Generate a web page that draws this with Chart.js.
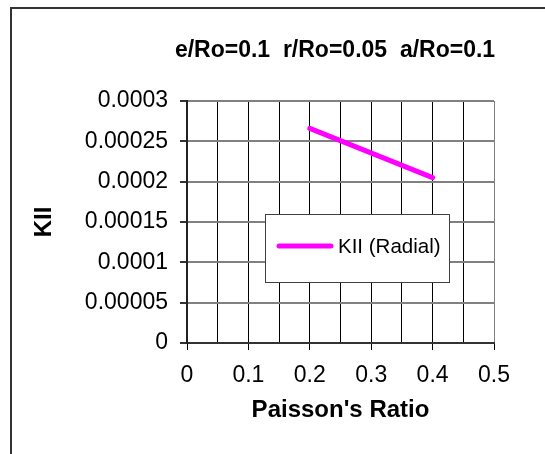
<!DOCTYPE html>
<html><head><meta charset="utf-8">
<script src="https://cdn.jsdelivr.net/npm/chart.js@4/dist/chart.umd.min.js"></script>
<style>html,body{margin:0;padding:0;background:#fff;}#wrap{width:545px;height:454px;position:relative}</style>
</head><body><div id="wrap"><canvas id="c" width="545" height="454"></canvas></div>
<script>
const chartTitle = 'e/Ro=0.1  r/Ro=0.05  a/Ro=0.1';
const xTitle = "Paisson's Ratio";
const yTitle = 'KII';
const seriesName = 'KII (Radial)';
const poissonRatio = [0.2, 0.4];
const kiiRadial = [0.000266, 0.000205];
const xTickValues = [0, 0.05, 0.1, 0.15, 0.2, 0.25, 0.3, 0.35, 0.4, 0.45, 0.5];
const xTickLabels = ['0', '', '0.1', '', '0.2', '', '0.3', '', '0.4', '', '0.5'];
const yTickValues = [0, 0.00005, 0.0001, 0.00015, 0.0002, 0.00025, 0.0003];
const yTickLabels = ['0', '0.00005', '0.0001', '0.00015', '0.0002', '0.00025', '0.0003'];

const FONT = "'Liberation Sans', Arial, sans-serif";

const framePlugin = {
  id: 'frame',
  beforeDraw(chart) {
    const ctx = chart.ctx;
    ctx.save();
    ctx.fillStyle = '#fff';
    ctx.fillRect(0, 0, chart.width, chart.height);
    ctx.strokeStyle = '#333';
    ctx.lineWidth = 2;
    ctx.beginPath();
    ctx.moveTo(11, chart.height);
    ctx.lineTo(11, 8);
    ctx.lineTo(chart.width, 8);
    ctx.stroke();
    ctx.restore();
  },
  afterDraw(chart) {
    const ctx = chart.ctx;
    ctx.save();
    ctx.fillStyle = '#000';
    ctx.font = 'bold 23px ' + FONT;
    ctx.textAlign = 'center';
    ctx.textBaseline = 'middle';
    ctx.fillText(chartTitle, 335, 51);
    ctx.restore();
  }
};

const legendBoxPlugin = {
  id: 'legendBox',
  afterDatasetsDraw(chart) {
    const ctx = chart.ctx;
    const ds = chart.data.datasets[0];
    ctx.save();
    ctx.fillStyle = '#fff';
    ctx.fillRect(265.5, 214.5, 184, 68);
    ctx.strokeStyle = '#404040';
    ctx.lineWidth = 1;
    ctx.strokeRect(265.5, 214.5, 184, 68);
    ctx.strokeStyle = ds.borderColor;
    ctx.lineWidth = 5;
    ctx.lineCap = 'round';
    ctx.beginPath();
    ctx.moveTo(279, 246);
    ctx.lineTo(331, 246);
    ctx.stroke();
    ctx.fillStyle = '#000';
    ctx.font = '20.5px ' + FONT;
    ctx.textBaseline = 'middle';
    ctx.textAlign = 'left';
    ctx.fillText(ds.label, 338, 247);
    ctx.restore();
  }
};

new Chart(document.getElementById('c'), {
  type: 'scatter',
  data: {
    datasets: [{
      label: seriesName,
      data: poissonRatio.map((x, i) => ({x: x, y: kiiRadial[i]})),
      showLine: true,
      borderColor: '#FF00FF',
      backgroundColor: '#FF00FF',
      borderWidth: 5,
      borderCapStyle: 'round',
      pointRadius: 0,
      pointHoverRadius: 0
    }]
  },
  options: {
    responsive: false,
    animation: false,
    devicePixelRatio: 1,
    layout: {padding: {left: 0, right: 51, top: 101, bottom: 20}},
    plugins: {
      legend: {display: false},
      tooltip: {enabled: false},
      title: {display: false}
    },
    scales: {
      x: {
        type: 'linear',
        min: 0, max: 0.5,
        afterBuildTicks: s => { s.ticks = xTickValues.map(v => ({value: v})); },
        afterFit: s => { s.height = 91; },
        ticks: {
          callback: (v, i) => xTickLabels[i],
          color: '#000',
          font: {family: FONT, size: 23},
          padding: 12,
          maxRotation: 0,
          autoSkip: false
        },
        grid: {
          color: c => (c.tick && c.tick.value === 0.5) ? '#808080' : '#000',
          lineWidth: 1,
          tickLength: 7,
          tickColor: c => xTickLabels[c.index] ? '#000' : 'rgba(0,0,0,0)'
        },
        border: {color: '#333', width: 2},
        title: {
          display: true,
          text: xTitle,
          color: '#000',
          font: {family: FONT, size: 24, weight: 'bold'},
          padding: {top: 0, bottom: 9}
        }
      },
      y: {
        min: 0, max: 0.0003,
        afterBuildTicks: s => { s.ticks = yTickValues.map(v => ({value: v})); },
        afterFit: s => { s.width = 187; },
        ticks: {
          callback: (v, i) => yTickLabels[i],
          color: '#000',
          font: {family: FONT, size: 23},
          padding: 12,
          autoSkip: false
        },
        grid: {
          color: '#808080',
          lineWidth: 2,
          tickLength: 7,
          tickColor: '#333'
        },
        border: {color: '#222', width: 2},
        title: {
          display: true,
          text: yTitle,
          color: '#000',
          font: {family: FONT, size: 24, weight: 'bold'},
          padding: {top: 30, bottom: 0}
        }
      }
    }
  },
  plugins: [framePlugin, legendBoxPlugin]
});
</script>
</body></html>
